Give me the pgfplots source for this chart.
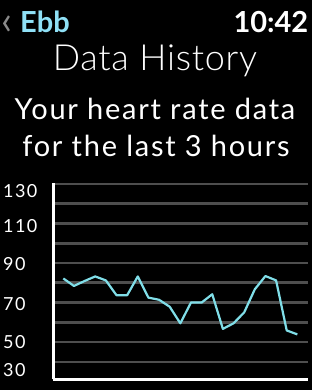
\documentclass[border=0pt]{standalone}
\usepackage{pgfplots}
\pgfplotsset{compat=1.18}
\usepackage{fontspec}
\setmainfont{Lato}[LetterSpace=6]
\newfontfamily\plainfont{Lato}
\newfontfamily\lightfont{Lato Light}[LetterSpace=2]
\newfontfamily\numfont{Lato}[LetterSpace=8]
\definecolor{ebb}{HTML}{8FE0F6}
\definecolor{hr}{HTML}{80DEE8}
\definecolor{gridgray}{HTML}{4E4E4E}
\definecolor{chev}{HTML}{8A8A8A}
\begin{document}
\begin{tikzpicture}
\useasboundingbox (0pt,0pt) rectangle (312pt,390pt);
\fill[black] (0pt,0pt) rectangle (312pt,390pt);
% header
\node[anchor=base west, text=chev, inner sep=0pt, font=\fontsize{40}{40}\plainfont] at (1.5pt,355pt) {‹};
\node[anchor=base west, text=ebb, inner sep=0pt, font=\fontsize{29}{29}\plainfont\bfseries] at (20pt,357pt) {Ebb};
\node[anchor=base east, text=white, inner sep=0pt, font=\fontsize{29}{29}\plainfont\bfseries] at (308.5pt,357pt) {10:42};
\node[anchor=base, text=white, inner sep=0pt, font=\fontsize{36}{36}\lightfont] at (155pt,319.5pt) {Data History};
\node[anchor=base, text=white, inner sep=0pt, font=\fontsize{29}{29}\selectfont] at (155pt,270pt) {Your heart rate data};
\node[anchor=base, text=white, inner sep=0pt, font=\fontsize{29}{29}\selectfont] at (156pt,233.5pt) {for the last 3 hours};
\begin{axis}[
  at={(53.3pt,10.7pt)}, anchor=south west,
  scale only axis, width=254.7pt, height=196.6pt,
  xmin=-0.94, xmax=23.0, ymin=31.2, ymax=130.6,
  axis line style={white, line width=3pt},
  axis x line=bottom, axis y line=left,
  x axis line style={-}, y axis line style={-},
  xtick=\empty,
  ytick={35.8,49.9,69.4,89.4,108.9,126.4},
  yticklabels={30,50,70,90,110,130},
  major tick length=0pt,
  yticklabel style={anchor=west, inner sep=0pt, xshift=-50.3pt, text=white, font=\fontsize{18}{18}\numfont},
  minor ytick={40,50,...,130},
  ymajorgrids=false, yminorgrids=true,
  minor grid style={gridgray, line width=2.6pt},
  clip=false,
]
\addplot[hr, line width=2.2pt, line join=round, mark=none] coordinates {
(0,82.2) (1,78.4) (2,80.9) (3,83.2) (4,81.2) (5,73.7) (6,73.7) (7,83.2)
(8,72.5) (9,71.4) (10,67.9) (11,59.5) (12,70) (13,70) (14,74.2) (15,56.7)
(16,59.5) (17,65) (18,76.7) (19,83.4) (20,81.2) (21,55.9) (22,53.9)
};
\end{axis}
\end{tikzpicture}
\end{document}
